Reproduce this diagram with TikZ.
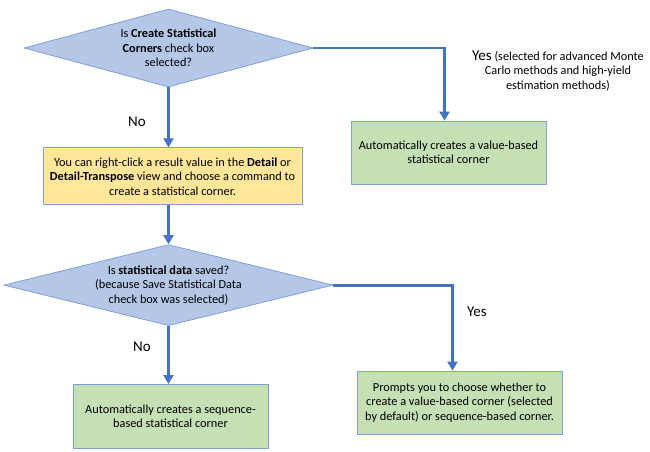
\documentclass[tikz,border=0pt]{standalone}
\usepackage{fontspec}
\setmainfont{Carlito}
\usetikzlibrary{arrows.meta,positioning,shapes.geometric}

\definecolor{qfill}{HTML}{B4C7E7}
\definecolor{qline}{HTML}{7F9FD8}
\definecolor{tipfill}{HTML}{FFE699}
\definecolor{okfill}{HTML}{C5E0B4}
\definecolor{arrblue}{HTML}{4472C4}

\begin{document}
\begin{tikzpicture}[
  x=1pt, y=-1pt,
  font=\fontsize{12.3}{14.5}\selectfont,
  q/.style={diamond,draw=qline,fill=qfill,line width=0.8pt,align=center,inner sep=-6pt},
  n/.style={draw=qline,fill=okfill,line width=0.8pt,align=center,minimum width=195pt,minimum height=63pt},
  lbl/.style={font=\fontsize{15}{17}\selectfont},
  arr/.style={draw=arrblue,line width=2.8pt,-{Triangle[length=9pt,width=10pt]}}
]
\useasboundingbox (0,0) rectangle (650,451);

\node[q,shape aspect=3.7,minimum width=289pt,minimum height=78pt] (q1) at (168.5,48)
  {Is \textbf{Create Statistical}\\\textbf{Corners} check box\\selected?};
\node[n,fill=tipfill,minimum width=259pt,minimum height=57pt,below=60pt of q1,xshift=4pt] (tip)
  {You can right-click a result value in the \textbf{Detail} or\\\textbf{Detail-Transpose} view and choose a command to\\create a statistical corner.};
\node[q,shape aspect=4.06,minimum width=329pt,minimum height=81pt,below=39pt of tip,xshift=-4pt] (q2)
  {Is \textbf{statistical data} saved?\\(because Save Statistical Data\\check box was selected)};
\node[n,minimum height=64pt,below=58pt of q2,xshift=2pt] (seq)
  {Automatically creates a sequence-\\based statistical corner};
\node[n] (val) at (448.5,152.5) {Automatically creates a value-based\\statistical corner};
\node[n,minimum width=205pt] (prompt) at (459.5,402.5)
  {Prompts you to choose whether to\\create a value-based corner (selected\\by default) or sequence-based corner.};

\node[lbl] (noA) at (137,122) {No};
\node[align=center] (yesA) at (558,71)
  {{\fontsize{15}{17}\selectfont Yes} (selected for advanced Monte\\Carlo methods and high-yield\\estimation methods)};
\node[lbl] (noB) at (142,347) {No};
\node[lbl] (yesB) at (477,312) {Yes};

\draw[arr] (q1.south) -- (q1.south |- tip.north);
\draw[arr] (q1.east) -| ([xshift=-4pt]val.north);
\draw[arr] (q2.north |- tip.south) -- (q2.north);
\draw[arr] (q2.south) -- (q2.south |- seq.north);
\draw[arr] (q2.east) -| ([xshift=-7pt]prompt.north);
\end{tikzpicture}
\end{document}
